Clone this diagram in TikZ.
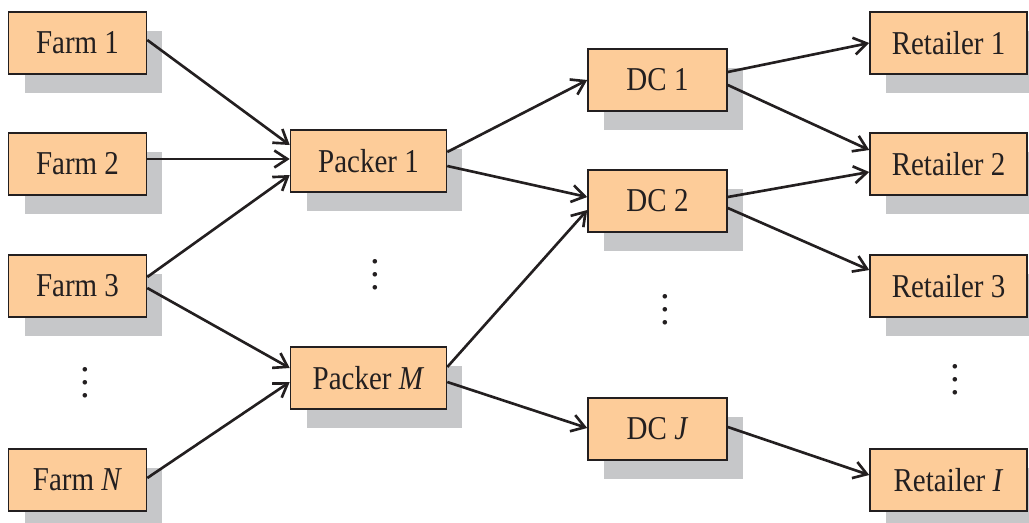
\documentclass[tikz,border=0pt]{standalone}
\usepackage{fontspec}
\setmainfont{Liberation Serif}
\usetikzlibrary{positioning, shadows, arrows.meta, calc}
\definecolor{boxfill}{RGB}{253,204,153}
\definecolor{shadowgray}{RGB}{198,199,201}
\definecolor{inkcol}{RGB}{35,31,32}
\newcommand{\tall}[1]{\scalebox{1}[1.15]{#1}}

\begin{document}
\begin{tikzpicture}[x=0.02cm, y=-0.02cm,
    stage/.style={draw=inkcol, line width=0.9pt, fill=boxfill, text=inkcol,
        minimum height=1.24cm, minimum width=#1, inner sep=0pt,
        font=\fontsize{16.5}{20}\selectfont,
        drop shadow={shadow xshift=0.32cm, shadow yshift=-0.38cm, fill=shadowgray, opacity=1}},
    stage/.default=2.78cm,
    flow/.style={draw=inkcol, line width=1.5pt, -{Straight Barb[length=0.26cm, width=0.34cm]}},
    dots/.style={text=inkcol, inner sep=0pt, align=center, font=\fontsize{22}{7.4}\selectfont}]
    \useasboundingbox (0,0) rectangle (1029,522);

    % farms
    \foreach \n/\lab/\y in {1/1/43, 2/2/164, 3/3/286, N/\textit{N}/480}
    {
    \node[stage=2.76cm] (F\n) at (77.5,\y) {\tall{Farm \lab}};
    }
    % packers
    \node[stage=3.12cm] (P1) at (368.5,161) {\tall{Packer 1}};
    \node[stage=3.12cm] (PM) at (368.5,378) {\tall{Packer \textit{M}}};
    % distribution centres
    \foreach \n/\lab/\y in {1/1/80, 2/2/201, J/\textit{J}/429}
    {
    \node[stage] (D\n) at (657.5,\y) {\tall{DC \lab}};
    }
    % retailers
    \foreach \n/\lab/\y in {1/1/43, 2/2/164, 3/3/286, I/\textit{I}/480}
    {
    \node[stage=3.14cm] (R\n) at (948.5,\y) {\tall{Retailer \lab}};
    }

    \node[dots] (vF) at (85,383) {.\\.\\.};
    \node[dots] (vP) at (375,275) {.\\.\\.};
    \node[dots] (vD) at (665,310) {.\\.\\.};
    \node[dots] (vR) at (955,380) {.\\.\\.};

    \draw[flow] ($(F1.east)+(0,-3)$) -- ($(P1.west)+(0,-16)$);
    \draw[flow] ($(F2.east)+(0,-5)$) -- ($(P1.west)+(0,-2)$);
    \draw[flow] ($(F3.east)+(0,-9)$) -- ($(P1.west)+(0,14)$);
    \draw[flow] ($(F3.east)+(0,2)$) -- ($(PM.west)+(0,-10)$);
    \draw[flow] ($(FN.east)+(0,-2)$) -- ($(PM.west)+(0,4)$);

    \draw[flow] ($(P1.east)+(0,-9)$) -- (D1.west);
    \draw[flow] ($(P1.east)+(0,5)$) -- ($(D2.west)+(0,-4)$);
    \draw[flow] ($(PM.east)+(0,-11)$) -- ($(D2.west)+(0,9)$);
    \draw[flow] ($(PM.east)+(0,4)$) -- ($(DJ.west)+(0,-1)$);

    \draw[flow] ($(D1.east)+(0,-8)$) -- (R1.west);
    \draw[flow] ($(D1.east)+(0,5)$) -- ($(R2.west)+(0,-14)$);
    \draw[flow] ($(D2.east)+(0,-4)$) -- ($(R2.west)+(0,8)$);
    \draw[flow] ($(D2.east)+(0,7)$) -- ($(R3.west)+(0,-16)$);
    \draw[flow] ($(DJ.east)+(0,-2)$) -- ($(RI.west)+(0,-5)$);
\end{tikzpicture}
\end{document}
